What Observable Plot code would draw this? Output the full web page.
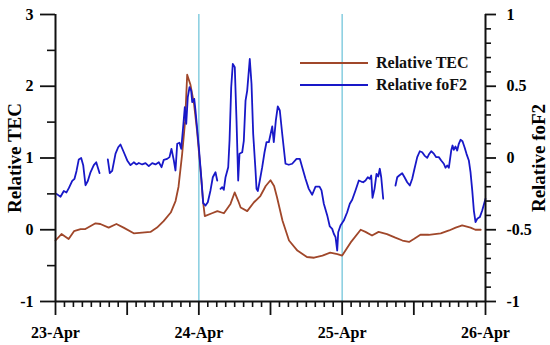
<!DOCTYPE html>
<html>
<head>
<meta charset="utf-8">
<script src="https://cdn.jsdelivr.net/npm/d3@7"></script>
<script src="https://cdn.jsdelivr.net/npm/@observablehq/plot@0.6"></script>
<style>
  html, body { margin: 0; padding: 0; background: #fff; }
  #wrap { position: relative; width: 550px; height: 345px; overflow: hidden; }
  #legend { position: absolute; left: 300px; top: 52px; font-family: "Liberation Serif", serif; font-weight: bold; font-size: 16px; color: #111; z-index: 10; }
  .row { display: flex; align-items: center; height: 22px; }
  .swatch { width: 68px; height: 2px; margin-right: 8px; }
</style>
</head>
<body>
<div id="wrap"><div id="legend"></div></div>
<script>
// Hours since 23-Apr 00:00 (UT)
const dayLabels = ["23-Apr", "24-Apr", "25-Apr", "26-Apr"];
const dayTicks = [0, 24, 48, 72];

// Relative TEC (left axis)
const tecHours = [0, 1.0, 2.2, 3.1, 4.2, 5.0, 6.7, 7.5, 8.9, 10.2, 11.4, 13.1, 15.9, 17.0, 18.1, 19.3, 20.1, 20.6, 21.2, 21.7, 22.05, 22.6, 23.2, 23.7, 24.3, 24.7, 25.0, 26.2, 27.1, 28.2, 29.3, 30.0, 30.6, 31.0, 32.1, 33.2, 34.3, 35.2, 36.0, 36.6, 37.1, 38.0, 39.1, 40.5, 42.1, 43.3, 44.7, 46.0, 47.2, 48.0, 49.4, 51.1, 51.9, 53.0, 54.1, 55.5, 56.9, 58.1, 59.2, 60.0, 61.1, 62.5, 64.5, 65.9, 67.0, 68.1, 69.5, 70.3, 71.2];
const tecValues = [-0.15, -0.06, -0.13, -0.02, 0.01, 0.01, 0.09, 0.08, 0.03, 0.08, 0.03, -0.05, -0.03, 0.03, 0.12, 0.24, 0.40, 0.60, 1.05, 1.51, 2.16, 2.02, 1.75, 1.38, 0.82, 0.40, 0.19, 0.23, 0.26, 0.23, 0.36, 0.52, 0.40, 0.31, 0.26, 0.38, 0.47, 0.61, 0.69, 0.61, 0.45, 0.13, -0.15, -0.29, -0.38, -0.39, -0.36, -0.32, -0.34, -0.36, -0.18, 0.0, -0.03, -0.08, -0.03, -0.06, -0.11, -0.15, -0.17, -0.13, -0.07, -0.07, -0.05, -0.01, 0.03, 0.06, 0.03, 0.0, 0.0];

// Relative foF2 (right axis); NaN = data gap
const fof2Hours = [0.17, 0.84, 1.39, 1.84, 2.23, 2.80, 3.18, 3.52, 3.90, 4.30, 4.64, 5.02, 5.41, 5.86, 6.41, 6.82, 7.15, 7.37, 8.0,
  8.76, 9.09, 9.49, 10.05, 10.50, 10.88, 11.44, 12.01, 12.56, 13.11, 13.56, 13.95, 14.52, 15.07, 15.62, 16.19, 16.74, 17.30, 17.75, 18.13, 18.70, 19.09, 19.42, 19.81, 20.09, 20.38, 20.76, 21.05, 21.32, 21.65, 21.89, 22.15, 22.44, 22.72, 22.89, 23.23, 23.44, 24.00, 24.45, 24.73, 25.12, 25.50, 25.95, 26.34, 26.79, 27.08, 27.3,
  27.63, 27.91, 28.18, 28.47, 28.92, 29.14, 29.42, 29.69, 30.02, 30.31, 30.59, 30.81, 31.26, 31.53, 31.82, 32.10, 32.53, 32.82, 33.10, 33.49, 33.66, 33.88, 34.21, 34.61, 35.00, 35.33, 35.72, 36.29, 36.55, 36.89, 37.22, 37.56, 37.96, 38.51, 39.07, 39.63, 40.36, 40.91, 41.31, 41.86, 42.41, 42.98, 43.54, 44.21, 44.54, 44.93, 45.50, 45.93, 46.33, 46.60, 46.89, 47.17, 47.34, 47.72, 48.27, 48.84, 49.28, 49.68, 50.23, 50.79, 51.19, 51.52, 51.91, 52.29, 52.63, 52.86, 53.08, 53.42, 53.75, 54.04, 54.30, 54.54, 54.87, 56.0,
  56.93, 57.22, 57.55, 58.05, 58.44, 58.89, 59.33, 59.73, 60.11, 60.57, 61.00, 61.40, 61.79, 62.24, 62.51, 62.91, 63.35, 63.75, 64.18, 64.58, 65.02, 65.30, 65.59, 65.86, 66.26, 66.48, 66.69, 66.98, 67.26, 67.53, 67.82, 68.15, 68.49, 68.82, 69.21, 69.49, 69.78, 70.05, 70.33, 70.61, 71.05, 71.45, 72.00];
const fof2Values = [-0.25, -0.27, -0.23, -0.24, -0.21, -0.16, -0.145, -0.09, -0.01, 0.0, -0.05, -0.19, -0.16, -0.10, -0.05, -0.03, -0.075, -0.105, NaN,
  -0.01, -0.105, -0.09, 0.03, 0.075, 0.094, 0.04, -0.017, -0.05, -0.03, -0.045, -0.035, -0.045, -0.036, -0.057, -0.036, -0.045, -0.03, -0.064, -0.013, -0.006, 0.006, 0.064, -0.017, -0.087, 0.099, 0.106, 0.064, 0.19, 0.354, 0.238, 0.424, 0.493, 0.47, 0.389, 0.412, 0.331, 0.075, -0.157, -0.315, -0.331, -0.308, -0.226, -0.134, -0.099, -0.157, NaN,
  -0.215, -0.203, -0.222, -0.134, -0.064, 0.122, 0.493, 0.656, 0.633, 0.261, -0.157, 0.03, 0.04, 0.12, 0.40, 0.47, 0.69, 0.517, 0.169, -0.087, -0.215, -0.23, -0.157, -0.064, 0.04, 0.11, 0.11, 0.22, 0.11, 0.261, 0.359, 0.331, 0.169, -0.04, -0.047, -0.04, -0.006, -0.006, -0.064, -0.145, -0.215, -0.256, -0.199, -0.199, -0.226, -0.319, -0.40, -0.477, -0.494, -0.528, -0.552, -0.645, -0.517, -0.47, -0.436, -0.378, -0.319, -0.291, -0.226, -0.157, -0.164, -0.169, -0.157, -0.134, -0.145, -0.122, -0.277, -0.215, -0.11, -0.129, -0.075, -0.134, -0.284, NaN,
  -0.192, -0.134, -0.122, -0.106, -0.134, -0.169, -0.192, -0.145, -0.075, 0.006, 0.047, 0.04, 0.017, 0.001, 0.024, 0.047, 0.03, 0.006, 0.006, -0.017, -0.04, -0.068, -0.052, -0.068, 0.052, 0.087, 0.057, 0.08, 0.052, 0.099, 0.127, 0.117, 0.075, 0.029, -0.017, -0.099, -0.226, -0.366, -0.447, -0.424, -0.412, -0.366, -0.284];

const leftTicks = [-1, 0, 1, 2, 3];
const leftMinor = [-0.5, 0.5, 1.5, 2.5];
const rightTicks = [-1, -0.5, 0, 0.5, 1];
const storm = [24, 48];

const tecColor = "#a0472a";
const fofColor = "#1818c8";
const ink = "#111";

const tec = tecHours.map((h, i) => ({h, v: tecValues[i]}));
// map foF2 (range -1..1) onto the TEC scale (-1..3)
const toLeft = f => 2 * f + 1;
const fof = fof2Hours.map((h, i) => ({h, v: toLeft(fof2Values[i])}));

const W = 550, H = 345, ML = 55, MR = 65, MT = 14, MB = 44;
const xDom = [0, 72], yDom = [-1, 3];
// tick lengths (px) expressed in data units of the scales
const pxX = (xDom[1] - xDom[0]) / (W - ML - MR);
const pxY = (yDom[1] - yDom[0]) / (H - MT - MB);

const xMinor = d3.range(0, 72.01, 1.5).filter(d => d % 12 !== 0);
const xMajor = d3.range(0, 72.01, 12);
const rightMinor = d3.range(-1, 3.01, 0.2).map(d => +d.toFixed(2)).filter(d => !Number.isInteger(d));
const rightMajor = rightTicks.map(toLeft);

const base = {
  width: W, height: H, marginLeft: ML, marginRight: MR, marginTop: MT, marginBottom: MB,
  style: {fontFamily: "'Liberation Serif', serif", fontSize: "16px", fontWeight: "bold", position: "absolute", left: "0px", top: "0px", maxWidth: "none", background: "transparent", overflow: "visible"}
};

// layer 1: data
const dataLayer = Plot.plot({
  ...base,
  x: {domain: xDom, axis: null},
  y: {domain: yDom, axis: null},
  marks: [
    Plot.ruleX(storm, {stroke: "#86cde0", strokeWidth: 1.5}),
    Plot.line(tec, {x: "h", y: "v", stroke: tecColor, strokeWidth: 1.8}),
    Plot.line(fof, {x: "h", y: "v", stroke: fofColor, strokeWidth: 1.8})
  ]
});

// layer 2: left + bottom axes
const leftLayer = Plot.plot({
  ...base,
  x: {domain: xDom},
  y: {domain: yDom},
  marks: [
    Plot.ruleX([0, 72], {stroke: ink, strokeWidth: 2}),
    Plot.ruleY([-1], {stroke: ink, strokeWidth: 2}),
    Plot.ruleX(xMinor, {y1: yDom[0], y2: yDom[0] - 6 * pxY, stroke: ink, strokeWidth: 1.6}),
    Plot.ruleX(xMajor, {y1: yDom[0], y2: yDom[0] - 14 * pxY, stroke: ink, strokeWidth: 1.8}),
    Plot.ruleY(leftMinor, {x1: xDom[0], x2: xDom[0] - 8 * pxX, stroke: ink, strokeWidth: 1.6}),
    Plot.ruleY(leftTicks, {x1: xDom[0], x2: xDom[0] - 15 * pxX, stroke: ink, strokeWidth: 1.8}),
    Plot.axisX(dayTicks, {tickSize: 0, tickPadding: 25, tickFormat: d => dayLabels[dayTicks.indexOf(d)], label: null}),
    Plot.axisY(leftTicks, {anchor: "left", tickSize: 0, tickPadding: 22, tickFormat: d => String(d), label: null}),
    Plot.text(["Relative TEC"], {frameAnchor: "left", dx: -41, rotate: -90, textAnchor: "middle", fontSize: 19})
  ]
});

// layer 3: right axis (foF2)
const rightLayer = Plot.plot({
  ...base,
  x: {domain: xDom, axis: null},
  y: {domain: yDom},
  marks: [
    Plot.ruleY(rightMinor, {x1: xDom[1], x2: xDom[1] + 6 * pxX, stroke: ink, strokeWidth: 1.6}),
    Plot.ruleY(rightMajor, {x1: xDom[1], x2: xDom[1] + 11 * pxX, stroke: ink, strokeWidth: 1.8}),
    Plot.axisY(rightMajor, {anchor: "right", tickSize: 0, tickPadding: 21, tickFormat: d => String((d - 1) / 2), label: null}),
    Plot.text(["Relative foF2"], {frameAnchor: "right", dx: 53, rotate: -90, textAnchor: "middle", fontSize: 19})
  ]
});

const wrap = document.getElementById("wrap");
wrap.prepend(dataLayer, leftLayer, rightLayer);

const legendItems = [["Relative TEC", tecColor], ["Relative foF2", fofColor]];
const legend = document.getElementById("legend");
for (const [name, color] of legendItems) {
  const row = document.createElement("div");
  row.className = "row";
  const sw = document.createElement("div");
  sw.className = "swatch";
  sw.style.background = color;
  const label = document.createElement("span");
  label.textContent = name;
  row.append(sw, label);
  legend.appendChild(row);
}
</script>
</body>
</html>
